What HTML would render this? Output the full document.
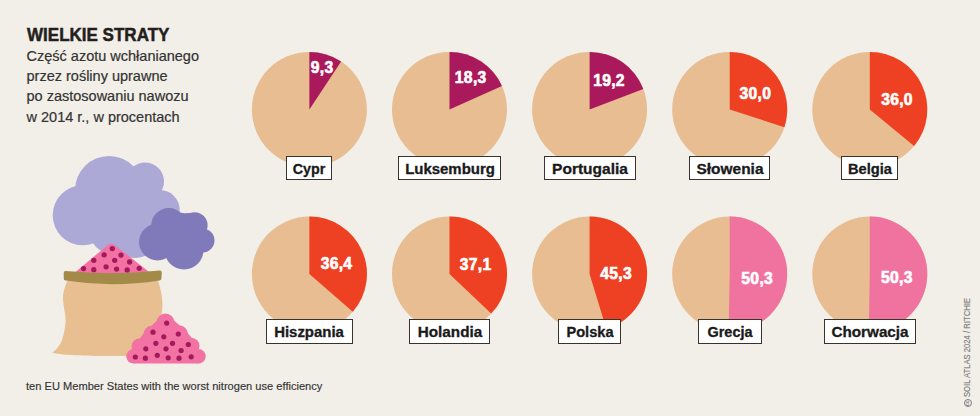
<!DOCTYPE html>
<html><head><meta charset="utf-8"><style>
html,body{margin:0;padding:0;background:#F2EFE8;}
body{width:980px;height:416px;position:relative;overflow:hidden;font-family:"Liberation Sans",sans-serif;}
.t{position:absolute;left:27px;top:23.5px;font-weight:bold;font-size:18.4px;color:#231F20;white-space:nowrap;transform-origin:0 0;transform:scaleX(0.925);-webkit-text-stroke:0.5px #231F20;}
.sub{position:absolute;left:26.5px;top:46px;font-size:14.5px;line-height:20.2px;color:#333;white-space:nowrap;-webkit-text-stroke:0.2px #333;}
.foot{position:absolute;left:26px;top:380px;font-size:11.1px;color:#333;white-space:nowrap;-webkit-text-stroke:0.15px #333;}
.cred{position:absolute;left:962.2px;top:397.4px;font-size:9px;line-height:normal;color:#7d7d7d;white-space:nowrap;transform:rotate(-90deg) scaleX(0.853);transform-origin:0 0;-webkit-text-stroke:0.15px #7d7d7d;}
.cc{position:absolute;left:963.6px;top:398.9px;width:8.2px;height:8.2px;box-sizing:border-box;border:0.9px solid #7d7d7d;border-radius:50%;}
.cc span{position:absolute;left:0.5px;top:6.1px;font-size:5px;line-height:5px;font-weight:bold;color:#7d7d7d;transform:rotate(-90deg);transform-origin:0 0;white-space:nowrap;}
svg{position:absolute;left:0;top:0;}
.v{font-family:"Liberation Sans",sans-serif;font-weight:bold;font-size:15.7px;fill:#fff;stroke:#fff;stroke-width:0.6px;letter-spacing:0.3px;}
.lab{position:absolute;box-sizing:border-box;height:24.3px;background:#fff;border:1.25px solid #3a322c;}
.lab span{position:absolute;left:50%;top:4px;line-height:16px;font-weight:bold;font-size:14.0px;color:#1a1a1a;white-space:nowrap;-webkit-text-stroke:0.3px #1a1a1a;}
</style></head><body>
<svg width="980" height="416" viewBox="0 0 980 416">
<circle cx="309.40" cy="109.4" r="57.5" fill="#E7BD91"/>
<path d="M309.40,109.40 L309.40,51.90 A57.5,57.5 0 0 1 341.12,61.44 Z" fill="#AA195B"/>
<text transform="translate(322.2,72.95) scale(1.0,1)" class="v" text-anchor="middle">9,3</text>
<circle cx="449.50" cy="109.4" r="57.5" fill="#E7BD91"/>
<path d="M449.50,109.40 L449.50,51.90 A57.5,57.5 0 0 1 501.98,85.90 Z" fill="#AA195B"/>
<text transform="translate(470.7,83.45) scale(1.0,1)" class="v" text-anchor="middle">18,3</text>
<circle cx="589.60" cy="109.4" r="57.5" fill="#E7BD91"/>
<path d="M589.60,109.40 L589.60,51.90 A57.5,57.5 0 0 1 643.32,88.91 Z" fill="#AA195B"/>
<text transform="translate(609,85.65) scale(1.0,1)" class="v" text-anchor="middle">19,2</text>
<circle cx="729.70" cy="109.4" r="57.5" fill="#E7BD91"/>
<path d="M729.70,109.40 L729.70,51.90 A57.5,57.5 0 0 1 784.39,127.17 Z" fill="#EE4123"/>
<text transform="translate(755.3,98.95) scale(1.0,1)" class="v" text-anchor="middle">30,0</text>
<circle cx="869.80" cy="109.4" r="57.5" fill="#E7BD91"/>
<path d="M869.80,109.40 L869.80,51.90 A57.5,57.5 0 0 1 914.10,146.05 Z" fill="#EE4123"/>
<text transform="translate(897.0,104.85) scale(1.0,1)" class="v" text-anchor="middle">36,0</text>
<circle cx="309.40" cy="274" r="57.5" fill="#E7BD91"/>
<path d="M309.40,274.00 L309.40,216.50 A57.5,57.5 0 0 1 352.77,311.75 Z" fill="#EE4123"/>
<text transform="translate(336.5,268.95) scale(1.0,1)" class="v" text-anchor="middle">36,4</text>
<circle cx="449.50" cy="274" r="57.5" fill="#E7BD91"/>
<path d="M449.50,274.00 L449.50,216.50 A57.5,57.5 0 0 1 491.17,313.62 Z" fill="#EE4123"/>
<text transform="translate(475.6,270.45) scale(1.0,1)" class="v" text-anchor="middle">37,1</text>
<circle cx="589.60" cy="274" r="57.5" fill="#E7BD91"/>
<path d="M589.60,274.00 L589.60,216.50 A57.5,57.5 0 0 1 606.33,329.01 Z" fill="#EE4123"/>
<text transform="translate(616.1,279.35) scale(1.0,1)" class="v" text-anchor="middle">45,3</text>
<circle cx="729.70" cy="274" r="57.5" fill="#E7BD91"/>
<path d="M729.70,274.00 L729.70,216.50 A57.5,57.5 0 1 1 728.62,331.49 Z" fill="#F0739F"/>
<text transform="translate(757.2,283.55) scale(1.0,1)" class="v" text-anchor="middle">50,3</text>
<circle cx="869.80" cy="274" r="57.5" fill="#E7BD91"/>
<path d="M869.80,274.00 L869.80,216.50 A57.5,57.5 0 1 1 868.72,331.49 Z" fill="#F0739F"/>
<text transform="translate(896.8,283.15) scale(1.0,1)" class="v" text-anchor="middle">50,3</text>
<circle cx="109" cy="190" r="34" fill="#ADA9D7"/><circle cx="145" cy="181.5" r="19" fill="#ADA9D7"/><circle cx="159.8" cy="210.1" r="20" fill="#ADA9D7"/><circle cx="82.7" cy="215.3" r="30" fill="#ADA9D7"/><circle cx="113" cy="230" r="24" fill="#ADA9D7"/><circle cx="135" cy="234" r="24" fill="#ADA9D7"/>
<polygon points="81,200 105,175 146,180 160,205 150,240 110,246 75,235" fill="#ADA9D7"/>
<circle cx="168.8" cy="225.8" r="17.7" fill="#807ABB"/><circle cx="194.6" cy="225.3" r="13" fill="#807ABB"/><circle cx="202.5" cy="240.6" r="12" fill="#807ABB"/><circle cx="184" cy="250" r="19.5" fill="#807ABB"/><circle cx="157.5" cy="242" r="18.5" fill="#807ABB"/>
<polygon points="168,226 176,212 184.6,213.2 190,213 195,226 202,240 184,250 160,238 152,228 157,226" fill="#807ABB"/>
<path d="M71,276 L75.8,271.7 L107.6,245.2 Q111.3,242.2 115,245.2 L148.8,271.7 L154,276 Z" fill="#F272A4"/>
<circle cx="112.3" cy="248.6" r="2.65" fill="#A3195B"/><circle cx="104.1" cy="254.8" r="2.65" fill="#A3195B"/><circle cx="121" cy="255.1" r="2.65" fill="#A3195B"/><circle cx="93.8" cy="260.3" r="2.65" fill="#A3195B"/><circle cx="114.7" cy="260.3" r="2.65" fill="#A3195B"/><circle cx="129.6" cy="262" r="2.65" fill="#A3195B"/><circle cx="83.5" cy="268.6" r="2.65" fill="#A3195B"/><circle cx="93.8" cy="269.7" r="2.65" fill="#A3195B"/><circle cx="106.1" cy="266.8" r="2.65" fill="#A3195B"/><circle cx="116.6" cy="269.1" r="2.65" fill="#A3195B"/><circle cx="127.2" cy="270" r="2.65" fill="#A3195B"/><circle cx="139.2" cy="268.3" r="2.65" fill="#A3195B"/>
<path d="M67.2,281 C64.5,287 62.6,294 63,300 C63.4,307 65.8,314 65.6,321 C65.4,328 63.8,334 62.2,339.5 C60.5,345 56.5,350 52.1,352.4 C60,355 80,355.5 105,356 L150,356 L160,320 C164,310 163,295 158.1,281 Z" fill="#E8BF90"/>
<path d="M65.6,271 Q112.5,275.5 159.8,270.6 Q161.8,270.6 161.8,272.6 L161.4,278.6 Q161.2,280.5 159.4,280.5 Q112.5,288 65.6,280.6 Q63.8,280.6 63.7,278.6 L63.7,273 Q63.7,271 65.6,271 Z" fill="#A38A48"/>
<circle cx="165.5" cy="322.3" r="8.8" fill="#F272A4"/><circle cx="151.8" cy="334" r="8.2" fill="#F272A4"/><circle cx="179.5" cy="333.8" r="8.2" fill="#F272A4"/><circle cx="139.5" cy="346.5" r="8" fill="#F272A4"/><circle cx="191.5" cy="346" r="8" fill="#F272A4"/><circle cx="133.5" cy="356.3" r="7.2" fill="#F272A4"/><circle cx="198.5" cy="356.3" r="7.2" fill="#F272A4"/>
<polygon points="157.3,320.3 173.6,320.3 186.2,331.1 196.3,344 199,352 198.5,363.5 133.5,363.5 133,352 135.7,343.3 145.1,331.8" fill="#F272A4"/>
<circle cx="166.7" cy="323.1" r="2.6" fill="#A3195B"/><circle cx="153" cy="332.2" r="2.6" fill="#A3195B"/><circle cx="178.3" cy="334" r="2.6" fill="#A3195B"/><circle cx="163.8" cy="336.8" r="2.6" fill="#A3195B"/><circle cx="155.9" cy="343.3" r="2.6" fill="#A3195B"/><circle cx="172.5" cy="343.3" r="2.6" fill="#A3195B"/><circle cx="188.3" cy="344.5" r="2.6" fill="#A3195B"/><circle cx="145.8" cy="348.8" r="2.6" fill="#A3195B"/><circle cx="166" cy="348.8" r="2.6" fill="#A3195B"/><circle cx="181.1" cy="350.5" r="2.6" fill="#A3195B"/><circle cx="135.3" cy="357" r="2.6" fill="#A3195B"/><circle cx="145.4" cy="358.2" r="2.6" fill="#A3195B"/><circle cx="157.3" cy="355.3" r="2.6" fill="#A3195B"/><circle cx="168.2" cy="357.8" r="2.6" fill="#A3195B"/><circle cx="179" cy="358.2" r="2.6" fill="#A3195B"/><circle cx="191.2" cy="356.8" r="2.6" fill="#A3195B"/>
</svg>
<div class="t">WIELKIE STRATY</div>
<div class="sub">Część azotu wchłanianego<br>przez rośliny uprawne<br>po zastosowaniu nawozu<br>w 2014 r., w procentach</div>
<div class="lab" style="left:286.1px;top:156.1px;width:45.9px"><span style="transform:translateX(-50%) scaleX(1.021)">Cypr</span></div>
<div class="lab" style="left:398.0px;top:156.1px;width:103.2px"><span style="transform:translateX(-50%) scaleX(1.068)">Luksemburg</span></div>
<div class="lab" style="left:543.9px;top:156.1px;width:92.0px"><span style="transform:translateX(-50%) scaleX(1.107)">Portugalia</span></div>
<div class="lab" style="left:689.4px;top:156.1px;width:80.9px"><span style="transform:translateX(-50%) scaleX(1.103)">Słowenia</span></div>
<div class="lab" style="left:841.4px;top:156.1px;width:57.1px"><span style="transform:translateX(-50%) scaleX(1.048)">Belgia</span></div>
<div class="lab" style="left:265.9px;top:319.3px;width:87.0px"><span style="transform:translateX(-50%) scaleX(1.066)">Hiszpania</span></div>
<div class="lab" style="left:409.4px;top:319.3px;width:80.4px"><span style="transform:translateX(-50%) scaleX(1.090)">Holandia</span></div>
<div class="lab" style="left:558.2px;top:319.3px;width:63.3px"><span style="transform:translateX(-50%) scaleX(1.042)">Polska</span></div>
<div class="lab" style="left:698.2px;top:319.3px;width:63.5px"><span style="transform:translateX(-50%) scaleX(1.031)">Grecja</span></div>
<div class="lab" style="left:824.0px;top:319.3px;width:91.8px"><span style="transform:translateX(-50%) scaleX(1.090)">Chorwacja</span></div>
<div class="foot">ten EU Member States with the worst nitrogen use efficiency</div>
<div class="cc"><span>cc</span></div>
<div class="cred">SOIL ATLAS 2024 / RITCHIE</div>
</body></html>
